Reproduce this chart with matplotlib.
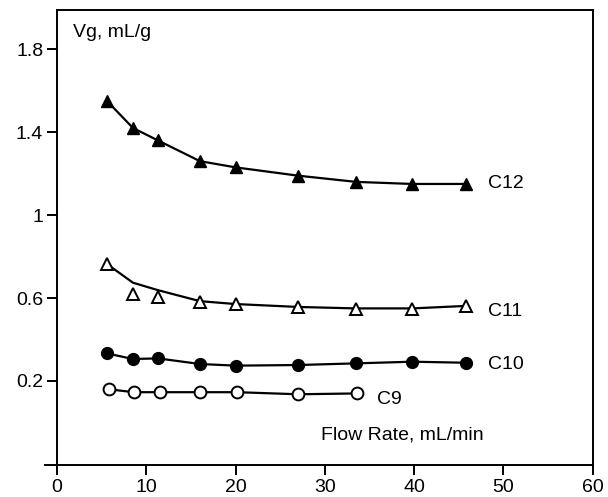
import matplotlib.pyplot as plt

plt.rcParams['font.family'] = ['Liberation Sans', 'DejaVu Sans']

# flow rate, mL/min
flow = [5.6, 8.5, 11.3, 16.0, 20.0, 27.0, 33.5, 39.8, 45.8]
flow_c9 = [5.8, 8.6, 11.5, 16.0, 20.2, 27.0, 33.6]

# Vg, mL/g
c12 = [1.55, 1.42, 1.36, 1.26, 1.23, 1.19, 1.16, 1.15, 1.15]
c11 = [0.764, 0.618, 0.606, 0.582, 0.571, 0.558, 0.547, 0.547, 0.563]
c11_curve = [0.764, 0.674, 0.638, 0.585, 0.571, 0.557, 0.55, 0.55, 0.562]  # drawn fit line
c10 = [0.333, 0.306, 0.309, 0.282, 0.274, 0.277, 0.285, 0.293, 0.288]
c9 = [0.160, 0.146, 0.146, 0.146, 0.146, 0.136, 0.14]

xticks = [0, 10, 20, 30, 40, 50, 60]
yticks = [0.2, 0.6, 1.0, 1.4, 1.8]
ytick_labels = ['0.2', '0.6', '1', '1.4', '1.8']

fig = plt.figure(figsize=(6.08, 4.97), dpi=100)
ax = fig.add_axes([0.0938, 0.0644, 0.881, 0.916])

lw = 1.6
ax.plot(flow, c12, '-^', color='black', lw=lw, ms=9, mfc='black')
ax.plot(flow, c11_curve, '-', color='black', lw=lw)
ax.plot(flow, c11, '^', color='black', ms=9, mfc='white', mew=1.4)
ax.plot(flow, c10, '-o', color='black', lw=lw, ms=8.5, mfc='black')
ax.plot(flow_c9, c9, '-o', color='black', lw=lw, ms=8.5, mfc='white', mew=1.4)

fs = 14
ax.text(48.3, c12[-1], 'C12', fontsize=fs, va='center')
ax.text(48.3, c11[-1] - 0.03, 'C11', fontsize=fs, va='center')
ax.text(48.3, c10[-1] - 0.01, 'C10', fontsize=fs, va='center')
ax.text(35.8, c9[-1] - 0.03, 'C9', fontsize=fs, va='center')
ax.text(29.6, -0.06, 'Flow Rate, mL/min', fontsize=fs, va='center')
ax.text(1.8, 1.88, 'Vg, mL/g', fontsize=fs, va='center')

ax.set_xlim(0, 60)
ax.set_ylim(-0.205, 1.99)
ax.set_xticks(xticks)
ax.set_xticklabels([str(t) for t in xticks], fontsize=fs)
ax.set_yticks(yticks)
ax.set_yticklabels(ytick_labels, fontsize=fs)
ax.tick_params(direction='out', length=7, width=1.4, pad=3)

for s in ax.spines.values():
    s.set_linewidth(1.4)
ax.spines['bottom'].set_bounds(-1.3, 60)

fig.savefig('out.png', dpi=100)
